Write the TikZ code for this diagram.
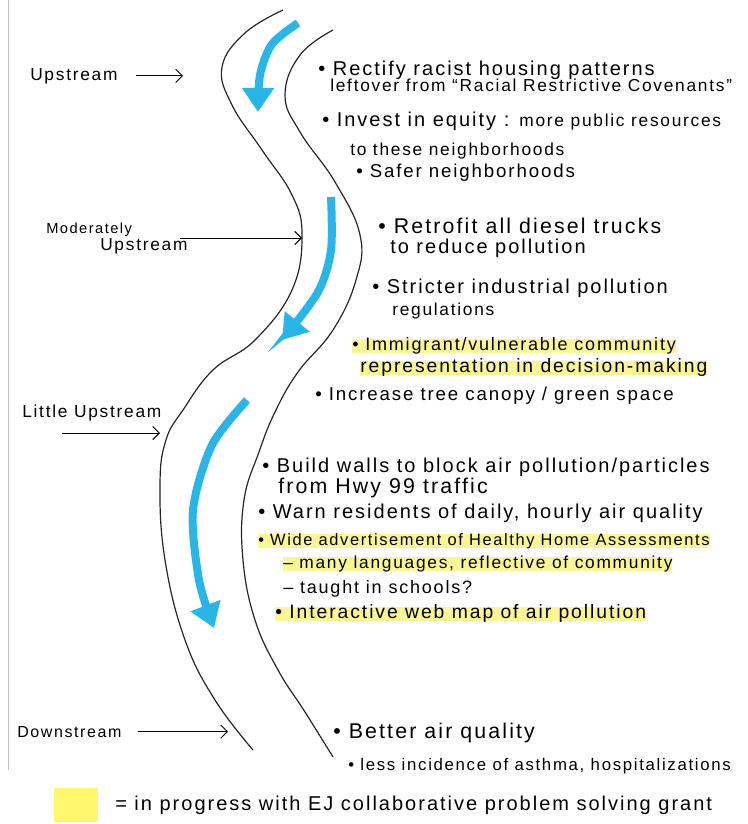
\documentclass[tikz,border=0pt]{standalone}
\usepackage{fontspec}
\setmainfont{Liberation Sans}[LetterSpace=10]
\usetikzlibrary{arrows.meta}

\definecolor{riverblue}{RGB}{40,182,232}
\definecolor{hlyellow}{RGB}{250,246,150}
\definecolor{padyellow}{RGB}{255,247,110}

\begin{document}
\begin{tikzpicture}[x=0.75pt, y=-0.75pt,
  bank/.style={line width=0.9pt, black!85},
  flow/.style={line width=6pt, riverblue, -{Triangle[length=18pt, width=23pt]}},
  level/.style={line width=0.7pt, -{Straight Barb[length=5pt, width=10pt]}},
  hand/.style={anchor=base west, inner sep=0pt, font=\fontsize{#1}{#1}\selectfont},
  hl/.style={fill=hlyellow, text height=0.75em, text depth=0.1em, inner ysep=1pt}
]

  \useasboundingbox (0,0) rectangle (748,824);
  \draw[black!25, line width=0.6pt] (8,0) -- (8,770);

  % river banks
  \draw[bank] plot[smooth, tension=0.7] coordinates {(283,10) (245,33) (222,67) (232,105)
    (262,150) (292,195) (302,235) (292,290) (255,340) (213,370) (183,410) (166,440)
    (160,485) (165,560) (185,640) (215,700) (253,750)};
  \draw[bank] plot[smooth, tension=0.7] coordinates {(333,30) (300,55) (285,95) (300,132)
    (335,182) (360,235) (356,280) (333,330) (298,372) (275,412) (259,452) (244,500)
    (243,560) (255,620) (278,670) (305,712) (333,757)};

  % flow arrows
  \draw[flow] plot[smooth] coordinates {(298,23) (272,44) (260,75) (258,112)};
  \draw[flow] plot[smooth] coordinates {(331,197) (331,250) (318,292) (282,340)};
  \draw[flow] plot[smooth] coordinates {(247,400) (212,445) (193,510) (199,580) (214,628)};

  % levels
  \node[hand=13] (upLbl) at (30,80) {Upstream};
  \coordinate (upTip) at (183,78);
  \draw[level] ([xshift=14pt]upLbl.east) -- (upLbl.east -| upTip);

  \node[hand=11] (modLbl) at (46,233) {Moderately};
  \node[hand=13] (modUp) at (100,250) {Upstream};
  \coordinate (modFrom) at (180,238);
  \coordinate (modTip) at (302,238);
  \draw[level] (modFrom) -- (modTip);

  \node[hand=13] (littleLbl) at (22,417) {Little Upstream};
  \coordinate (littleFrom) at (62,433);
  \coordinate (littleTip) at (160,433);
  \draw[level] (littleFrom) -- (littleTip);

  \node[hand=12] (downLbl) at (17,737) {Downstream};
  \coordinate (downTip) at (228,732);
  \draw[level] ([xshift=12pt]downLbl.east) -- (downLbl.east -| downTip);

  % upstream actions
  \node[hand=15] (rectify) at (318,75) {• Rectify racist housing patterns};
  \node[hand=13] (leftover) at (330,92) {leftover from “Racial Restrictive Covenants”};
  \node[hand=15] (invest) at (322,126)
    {• Invest in equity : {\fontsize{13}{13}\selectfont more public resources}};
  \node[hand=13] (these) at (350,155) {to these neighborhoods};
  \node[hand=14] (safer) at (356,177) {• Safer neighborhoods};

  % moderately upstream actions
  \node[hand=16] (retrofit) at (378,233) {• Retrofit all diesel trucks};
  \node[hand=15] (reduce) at (390,253) {to reduce pollution};
  \node[hand=15] (stricter) at (372,293) {• Stricter industrial pollution};
  \node[hand=13] (regul) at (392,315) {regulations};
  \node[hand=13.5, hl] (immig) at (352,350) {• Immigrant/vulnerable community};
  \node[hand=14.5, hl] (repres) at (360,372) {representation in decision-making};
  \node[hand=14] (canopy) at (315,400) {• Increase tree canopy / green space};

  % little upstream actions
  \node[hand=15] (walls) at (262,472) {• Build walls to block air pollution/particles};
  \node[hand=16] (hwy) at (278,493) {from Hwy 99 traffic};
  \node[hand=15] (warn) at (258,518) {• Warn residents of daily, hourly air quality};
  \node[hand=12.3, hl] (advert) at (258,545) {• Wide advertisement of Healthy Home Assessments};
  \node[hand=13, hl] (langs) at (283,568) {– many languages, reflective of community};
  \node[hand=13.5] (taught) at (283,593) {– taught in schools?};
  \node[hand=14.5, hl] (webmap) at (275,618) {• Interactive web map of air pollution};

  % downstream outcomes
  \node[hand=16] (better) at (333,738) {• Better air quality};
  \node[hand=12.6] (asthma) at (348,770) {• less incidence of asthma, hospitalizations};

  % legend
  \node[fill=padyellow, minimum width=33pt, minimum height=26pt, inner sep=0pt] (swatch) at (76,805) {};
  \node[hand=15] (legend) at (115,810) {= in progress with EJ collaborative problem solving grant};

\end{tikzpicture}
\end{document}
